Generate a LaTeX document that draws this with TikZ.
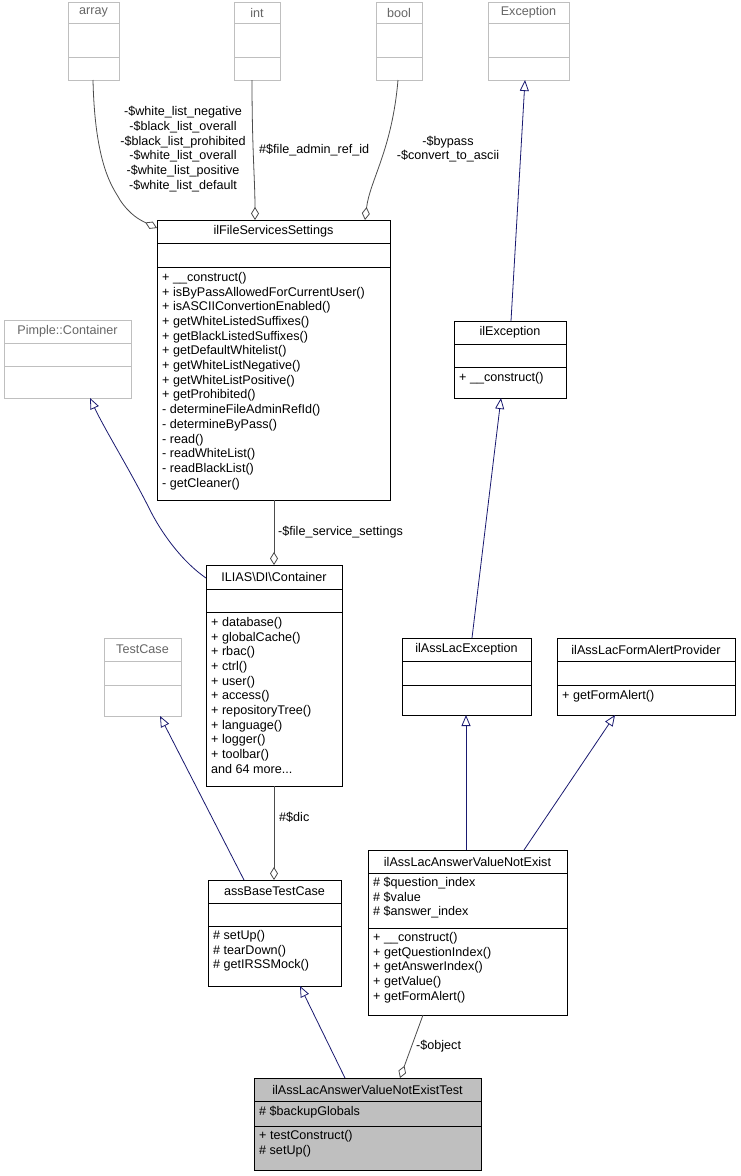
\documentclass[tikz,border=0pt]{standalone}
\usepackage{fontspec}
\setmainfont{Liberation Sans}
\usetikzlibrary{arrows.meta}
\definecolor{navy}{HTML}{191970}
\definecolor{ext}{HTML}{BFBFBF}
\tikzset{
  box/.style={draw=#1,line width=0.8pt,inner sep=0,anchor=north west},
  txt/.style={inner sep=0,anchor=north west,align=left,font=\fontsize{12.6}{14.7}\selectfont},
  ttl/.style={inner sep=0,font=\fontsize{12.6}{14.7}\selectfont},
  lbl/.style={inner sep=0,align=center,font=\fontsize{12.6}{14.8}\selectfont},
  inh/.style={draw=navy,line width=0.8pt,-{Triangle[open,length=11pt,width=9pt]}},
  agg/.style={draw=black!70,line width=0.8pt,-{Diamond[open,length=13pt,width=8pt]}},
}
% \cls{name}{l}{t}{r}{d1}{d2}{b}{color}{title}
\newcommand\cls[9]{%
  \node[box=#8,minimum width={(#4-#2)*1pt},minimum height={(#7-#3)*1pt}] (#1) at (#2,#3) {};
  \draw[line width=0.8pt,draw=#8] (#2,#5) -- (#4,#5) (#2,#6) -- (#4,#6);
  \node[ttl] (#1-t) at ({(#2+#4)/2},{(#3+#5)/2}) {#9};}
\begin{document}
\begin{tikzpicture}[x=1pt,y=-1pt]
\fill[white] (0,0) rectangle (740,1176);
\useasboundingbox (0,0) rectangle (740,1176);
\cls{arr}{68}{2}{119}{23}{57}{80}{ext}{\color{black!60}array}
\cls{int}{234}{2}{280}{23}{57}{80}{ext}{\color{black!60}int}
\cls{bool}{376}{2}{422}{23}{57}{80}{ext}{\color{black!60}bool}
\cls{exc}{488}{2}{569}{23}{57}{80}{ext}{\color{black!60}Exception}
\cls{pim}{4}{320}{131}{343}{366}{398}{ext}{\color{black!60}Pimple::Container}
\cls{tc}{104}{638}{181}{661}{685}{716}{ext}{\color{black!60}TestCase}
\cls{fss}{157}{220}{390}{243}{267}{500}{black}{ilFileServicesSettings}
\node[txt] (fss-o) at (162,272) {+ \_\_construct()\\+ isByPassAllowedForCurrentUser()\\+ isASCIIConvertionEnabled()\\+ getWhiteListedSuffixes()\\+ getBlackListedSuffixes()\\+ getDefaultWhitelist()\\+ getWhiteListNegative()\\+ getWhiteListPositive()\\+ getProhibited()\\- determineFileAdminRefId()\\- determineByPass()\\- read()\\- readWhiteList()\\- readBlackList()\\- getCleaner()};
\cls{ilex}{454}{321}{566}{344}{367}{398}{black}{ilException}
\node[txt] (ilex-o) at (459,372) {+ \_\_construct()};
\cls{dic}{206}{565}{342}{589}{612}{786}{black}{ILIAS\textbackslash DI\textbackslash Container}
\node[txt] (dic-o) at (211,617) {+ database()\\+ globalCache()\\+ rbac()\\+ ctrl()\\+ user()\\+ access()\\+ repositoryTree()\\+ language()\\+ logger()\\+ toolbar()\\and 64 more...};
\cls{lex}{402}{638}{531}{661}{685}{715}{black}{ilAssLacException}
\cls{fap}{557}{638}{735}{661}{685}{715}{black}{ilAssLacFormAlertProvider}
\node[txt] (fap-o) at (562,690) {+ getFormAlert()};
\cls{avn}{368}{850}{567}{873}{928}{1015}{black}{ilAssLacAnswerValueNotExist}
\node[txt,font=\fontsize{12.6}{14.7}\selectfont] (avn-a) at (373,877) {\# \$question\_index\\\# \$value\\\# \$answer\_index};
\node[txt] (avn-o) at (373,932) {+ \_\_construct()\\+ getQuestionIndex()\\+ getAnswerIndex()\\+ getValue()\\+ getFormAlert()};
\cls{btc}{208}{880}{341}{903}{926}{986}{black}{assBaseTestCase}
\node[txt] (btc-o) at (213,930) {\# setUp()\\\# tearDown()\\\# getIRSSMock()};
\fill[ext] (254,1078) rectangle (481,1170);
\cls{test}{254}{1078}{481}{1101}{1126}{1170}{black}{ilAssLacAnswerValueNotExistTest}
\node[txt] (test-a) at (259,1106) {\# \$backupGlobals};
\node[txt] (test-o) at (259,1130) {+ testConstruct()\\\# setUp()};
% edges
\coordinate (fssL) at (157,228);
\coordinate (fssA) at (255,220);
\coordinate (fssB) at (365,220);
\draw[agg] (93,80) .. controls (95,170) and (115,190) .. (120,200) .. controls (130,215) and (140,220) .. (fssL);
\node[lbl] at (183,149) {-\$white\_list\_negative\\-\$black\_list\_overall\\-\$black\_list\_prohibited\\-\$white\_list\_overall\\-\$white\_list\_positive\\-\$white\_list\_default};
\draw[agg] (252,80) .. controls (252,150) and (255,180) .. (fssA);
\node[lbl,anchor=west] at (259,150) {\#\$file\_admin\_ref\_id};
\draw[agg] (398,80) .. controls (392,150) and (370,180) .. (fssB);
\node[lbl] at (448,149) {-\$bypass\\-\$convert\_to\_ascii};
\draw[inh] (511,321) -- (525,80);
\draw[inh] (206,578) .. controls (180,560) and (160,530) .. (150,510) .. controls (130,470) and (105,430) .. (90,398);
\draw[agg] (274,500) -- (274,565);
\node[lbl,anchor=west] at (278,532) {-\$file\_service\_settings};
\draw[inh] (472,638) -- (501,398);
\draw[inh] (244,880) -- (160,716);
\draw[agg] (274,786) -- (274,880);
\node[lbl,anchor=west] at (279,817) {\#\$dic};
\draw[inh] (466,850) -- (466,715);
\draw[inh] (524,850) -- (615,715);
\draw[inh] (345,1078) -- (300,986);
\draw[agg] (423,1015) -- (400,1078);
\node[lbl,anchor=west] at (416,1046) {-\$object};
\end{tikzpicture}
\end{document}
